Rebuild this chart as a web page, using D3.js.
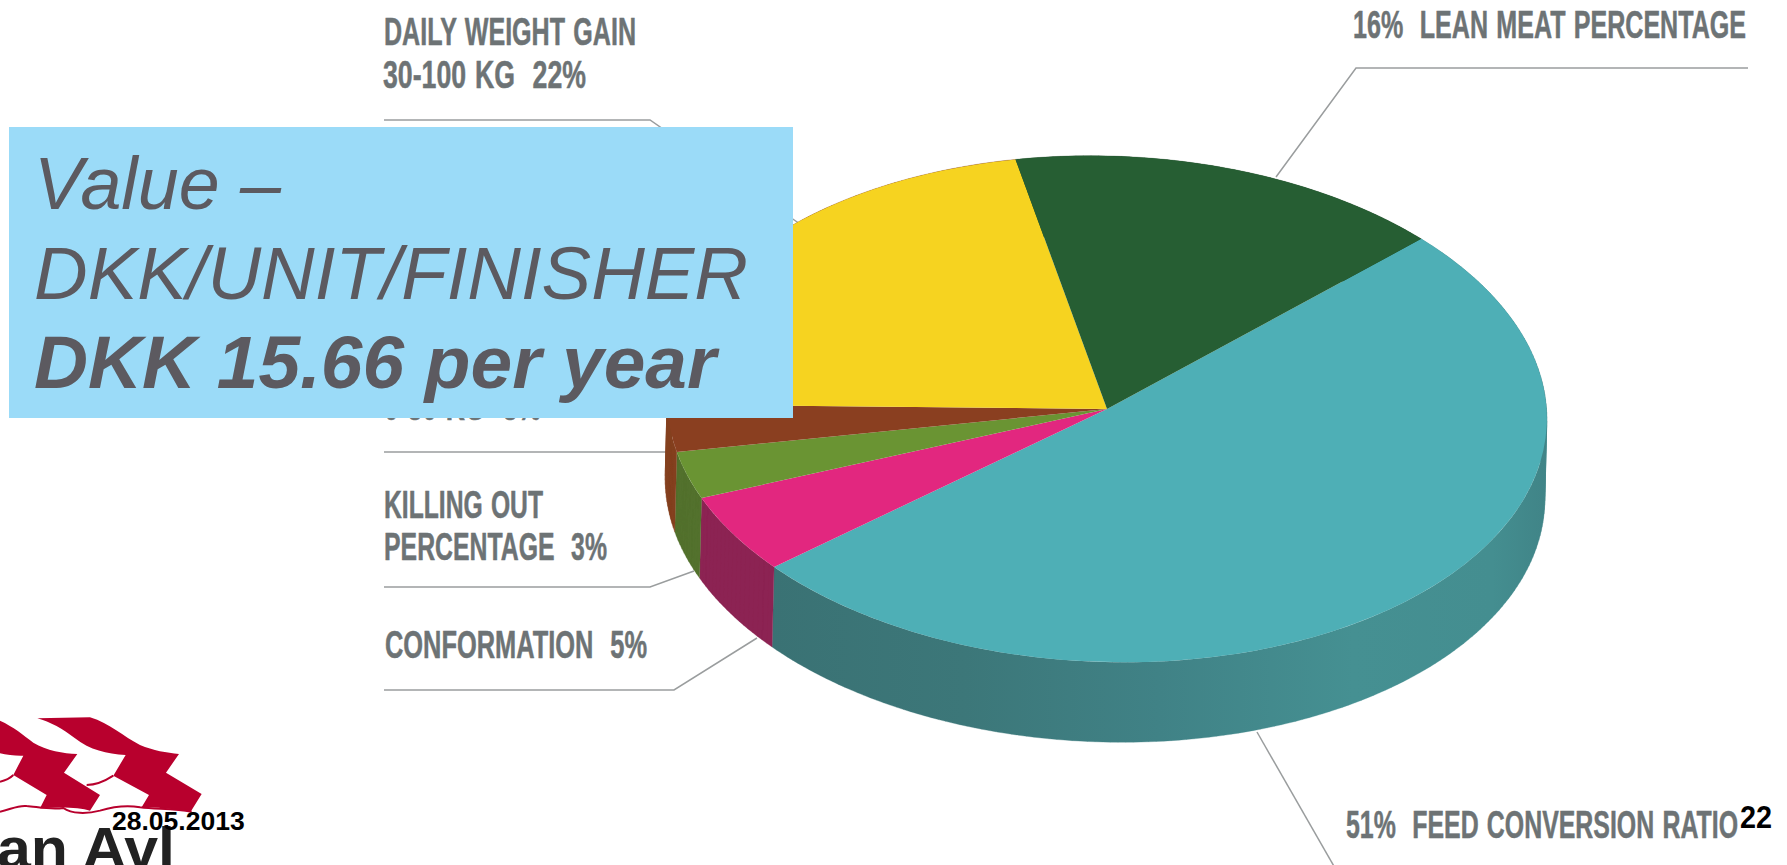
<!DOCTYPE html>
<html>
<head>
<meta charset="utf-8">
<style>
html,body{margin:0;padding:0;background:#fff;overflow:hidden}
svg{display:block}
text{white-space:pre}
</style>
<script src="https://cdnjs.cloudflare.com/ajax/libs/d3/7.8.5/d3.min.js"></script>
</head>
<body>
<svg id="c" width="1787" height="865"></svg>
<script>
// ---- data ----
const categories = ["FEED CONVERSION RATIO","CONFORMATION","KILLING OUT PERCENTAGE","0-30 KG","DAILY WEIGHT GAIN 30-100 KG","LEAN MEAT PERCENTAGE"];
const values = [51,5,3,3,22,16];
const topColors = ["#4eafb6","#e2277f","#6a9433","#8a3f20","#f6d320","#265e33"];
const wallColors = ["url(#tealWall)","#8c2353","#53712d","#84401f","#84401f","#1e4a28"];
const labelLines = [
  ["DAILY WEIGHT GAIN",384,636,45],
  ["30-100 KG  22%",383,586,88],
  ["0-30 KG  3%",384,541,420],
  ["KILLING OUT",384,543,518],
  ["PERCENTAGE  3%",384,607,560],
  ["CONFORMATION  5%",385,647,658],
  ["16%  LEAN MEAT PERCENTAGE",1353,1746,38],
  ["51%  FEED CONVERSION RATIO",1346,1738,838]
];
const leaderLines = [
  [[384,120],[650,120],[800,224]],
  [[384,452],[670,452]],
  [[384,587],[650,587],[694,571]],
  [[384,690],[674,690],[757,638]],
  [[1748,68],[1356,68],[1276,177]],
  [[1257,732],[1335,868]]
];
const boxLines = [
  ["Value \u2013",34,281,209,"normal"],
  ["DKK/UNIT/FINISHER",34,748,299,"normal"],
  ["DKK 15.66 per year",34,716,388,"bold"]
];

// ---- geometry of the projected pie ----
const cx=1107, cy=409, rx=440, ry=253, tilt=1.9, depth=80, shiftX=-2;
const start=44.5*Math.PI/180;
const svg=d3.select("#c");

const defs=svg.append("defs");
const g=defs.append("linearGradient").attr("id","tealWall").attr("gradientUnits","userSpaceOnUse")
  .attr("x1",770).attr("x2",1547).attr("y1",0).attr("y2",0);
[[0,"#3a7274"],[0.25,"#3c7779"],[0.5,"#408286"],[0.75,"#459092"],[0.93,"#448e90"],[1,"#408487"]]
  .forEach(s=>g.append("stop").attr("offset",s[0]).attr("stop-color",s[1]));

// ---- logo (behind everything) ----
const logo=svg.append("g").attr("transform","translate(0,690) scale(0.3333)");
logo.append("path").attr("fill","#b8002d").attr("d","M112,85 L270,82 C330,100 370,140 420,165 C460,182 500,188 537,192 L498,248 L605,312 L572,365 C540,362 480,350 425,352 L447,315 L340,257 L377,195 C320,192 270,180 225,145 C190,118 150,95 112,85 Z");
logo.append("path").attr("fill","#b8002d").attr("d","M0,92 C40,110 70,135 100,158 C140,182 190,190 232,192 L192,248 L300,315 L270,362 C240,352 180,350 120,355 L140,315 L40,255 L70,197 C50,198 20,195 0,190 Z");
logo.append("path").attr("fill","none").attr("stroke","#b8002d").attr("stroke-width",6).attr("d","M0,365 C30,360 50,345 80,348 C110,350 150,360 190,354 C215,372 260,372 300,362 C340,350 380,345 420,352 C470,358 520,355 575,365 M260,285 C290,285 320,270 340,257 M0,275 C15,272 30,265 40,255");
svg.append("text").text("an Avl").attr("x",-3).attr("y",868)
  .attr("font-family","'Liberation Sans',Arial,sans-serif").attr("font-weight","bold").attr("font-size",58)
  .attr("fill","#222").attr("textLength",178).attr("lengthAdjust","spacingAndGlyphs");

// ---- leader lines ----
const line=d3.line();
svg.append("g").selectAll("path").data(leaderLines).join("path")
  .attr("d",d=>line(d)).attr("fill","none").attr("stroke","#9a9d9e").attr("stroke-width",1.5);

// ---- labels ----
svg.append("g").selectAll("text").data(labelLines).join("text")
  .text(d=>d[0]).attr("x",d=>d[1]).attr("y",d=>d[3])
  .attr("textLength",d=>d[2]-d[1]).attr("lengthAdjust","spacingAndGlyphs")
  .attr("font-family","'Liberation Sans Narrow','Liberation Sans',Arial,sans-serif")
  .attr("font-weight","bold").attr("font-size",38).attr("word-spacing",2)
  .attr("fill","#6d7375").attr("stroke","#6d7375").attr("stroke-width",0.5);

// ---- pie ----
const pie=d3.pie().sort(null).startAngle(start).endAngle(start+2*Math.PI);
const arcs=pie(values);
const arc=d3.arc().innerRadius(0).outerRadius(rx);
const scaleY=ry/rx, th=tilt*Math.PI/180;
const project=(a,dx,dy)=>{
  const x0=rx*Math.sin(a), y0=-ry*Math.cos(a);
  return [cx+dx+x0*Math.cos(th)-y0*Math.sin(th), cy+dy+x0*Math.sin(th)+y0*Math.cos(th)];
};
// the wall of a slice is the sweep of the rim between the top face and the bottom face
const wallPath=d=>{
  const n=Math.max(4,Math.ceil((d.endAngle-d.startAngle)*180/Math.PI));
  const angles=d3.range(0,n+1).map(i=>d.startAngle+(d.endAngle-d.startAngle)*i/n);
  return d3.pairs(angles).map(([a,b])=>{
    const q=[project(a,0,0),project(b,0,0),project(b,shiftX,depth),project(a,shiftX,depth)];
    if(d3.polygonArea(q)<0) q.reverse();
    return line(q)+"Z";
  }).join("");
};
const walls=svg.append("g");
walls.selectAll("path").data(arcs).join("path")
  .attr("d",wallPath).attr("fill",(d,i)=>wallColors[i])
  .attr("stroke",(d,i)=>wallColors[i]).attr("stroke-width",0.3);
svg.append("g").attr("transform",`translate(${cx},${cy}) rotate(${tilt}) scale(1,${scaleY})`)
  .selectAll("path").data(arcs).join("path")
  .attr("d",arc).attr("fill",(d,i)=>topColors[i]);

// ---- blue panel ----
svg.append("rect").attr("x",9).attr("y",127).attr("width",784).attr("height",291).attr("fill","#9bdbf8");
svg.append("g").selectAll("text").data(boxLines).join("text")
  .text(d=>d[0]).attr("x",d=>d[1]).attr("y",d=>d[3])
  .attr("textLength",d=>d[2]-d[1]).attr("lengthAdjust","spacingAndGlyphs")
  .attr("font-family","'Liberation Sans',Arial,sans-serif")
  .attr("font-style","italic").attr("font-weight",d=>d[4]).attr("font-size",74).attr("fill","#5c5a60");

// ---- footer ----
const footer=svg.append("g").attr("font-family","'Liberation Sans',Arial,sans-serif").attr("font-weight","bold").attr("fill","#000");
footer.append("text").text("28.05.2013").attr("x",112).attr("y",830).attr("font-size",26.5);
footer.append("text").text("22").attr("x",1740).attr("y",828).attr("font-size",32).attr("textLength",32).attr("lengthAdjust","spacingAndGlyphs");
</script>
</body>
</html>
